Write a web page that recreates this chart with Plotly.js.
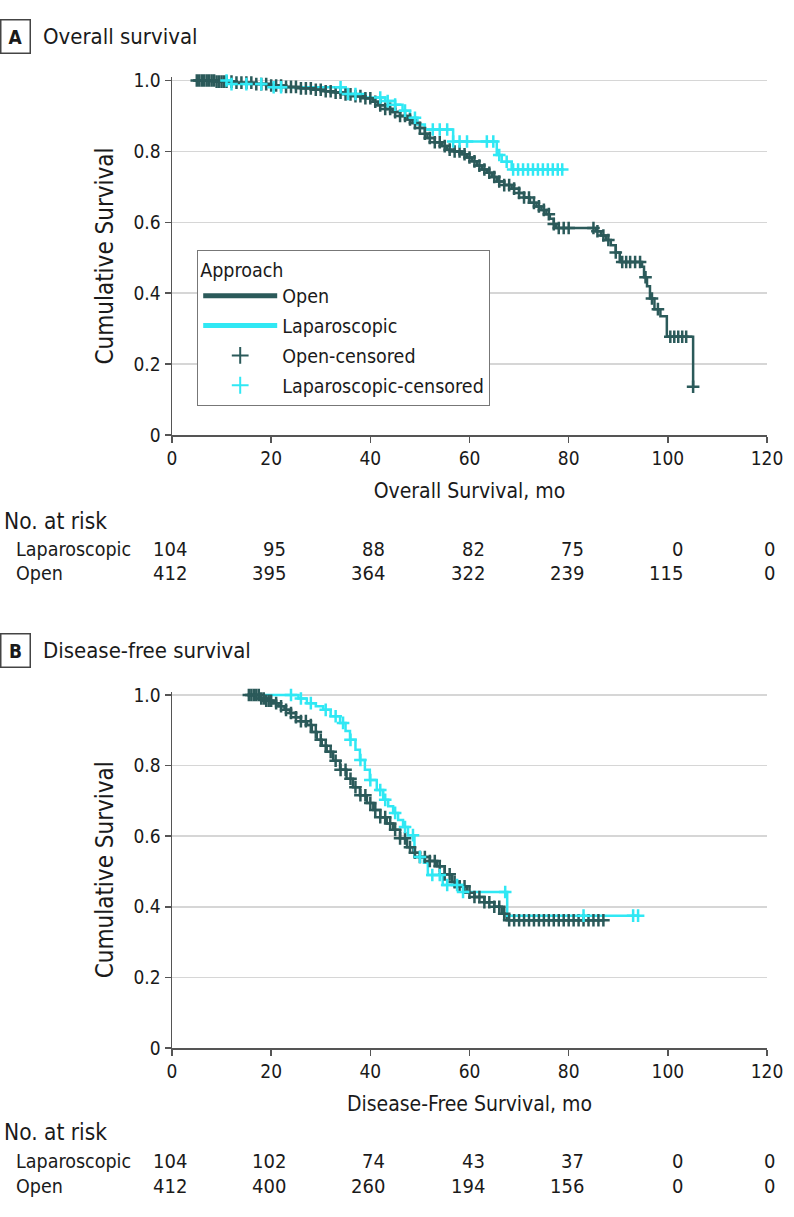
<!DOCTYPE html>
<html>
<head>
<meta charset="utf-8">
<script src="https://cdn.plot.ly/plotly-3.0.1.min.js"></script>
<style>
html,body{margin:0;padding:0;background:#fff;}
#chart{width:794px;height:1217px;}
</style>
</head>
<body>
<div id="chart"></div>
<script>
// ---------------- DATA ----------------
const xTickVals = [0, 20, 40, 60, 80, 100, 120];
const yTickVals = [0, 0.2, 0.4, 0.6, 0.8, 1.0];
const yTickText = ['0', '0.2', '0.4', '0.6', '0.8', '1.0'];
const seriesNames = ['Open', 'Laparoscopic', 'Open-censored', 'Laparoscopic-censored'];

// Panel A: overall survival (Kaplan-Meier steps)
const osOpenTime = [4.5, 9, 13, 17, 20, 23, 26, 29, 31, 33, 35, 37, 39, 40.5, 41.5, 43, 44.5, 46, 47.5, 48.5, 50, 51, 51.5, 53, 54.5, 55.5, 57, 58.5, 59.5, 60.5, 61.5, 62.5, 63.5, 64.5, 65.5, 67, 68.5, 70, 71, 72.2, 73.5, 74.5, 75.5, 76.2, 77, 77.5, 85.5, 86.5, 87.5, 88.5, 89.5, 90.3, 94.8, 95.2, 95.8, 96.4, 97.3, 98.5, 99.8, 105.1];
const osOpenSurv = [1.000, 0.997, 0.994, 0.990, 0.986, 0.982, 0.978, 0.974, 0.970, 0.966, 0.961, 0.956, 0.950, 0.940, 0.930, 0.920, 0.911, 0.900, 0.890, 0.880, 0.866, 0.850, 0.838, 0.826, 0.815, 0.805, 0.800, 0.792, 0.783, 0.772, 0.760, 0.749, 0.740, 0.728, 0.715, 0.705, 0.695, 0.683, 0.670, 0.655, 0.645, 0.635, 0.623, 0.610, 0.595, 0.584, 0.575, 0.563, 0.550, 0.535, 0.515, 0.488, 0.475, 0.445, 0.420, 0.385, 0.355, 0.335, 0.277, 0.136];
const osOpenCensor = [5, 5.5, 6, 6.5, 7, 7.5, 8, 8.5, 9, 9.5, 10, 10.5, 11, 12, 13, 14, 15, 16, 17, 18, 19, 20, 21, 22, 23, 24, 25, 26, 27, 28, 29, 30, 31, 32, 33, 34, 35, 36, 37, 38, 39, 40, 41, 42, 43, 44, 45, 46, 47, 48, 49, 50, 51, 52, 53, 54, 55, 56, 57, 58, 59, 60, 61, 62, 63, 64, 65, 66, 67, 68, 69, 70, 71, 72, 73, 74, 75, 76, 77, 78, 79, 80, 85, 85.8, 87, 88, 89.5, 90.8, 91.6, 92.4, 93.4, 94.4, 95.5, 96.8, 98, 100.5, 101.3, 102.1, 102.9, 103.7, 105.1];

const osLapTime = [10, 12, 20, 35, 39, 43, 45, 46.5, 48, 49.5, 51, 56.7, 65.5, 66.5, 68.5, 78.7];
const osLapSurv = [1.000, 0.990, 0.981, 0.962, 0.952, 0.942, 0.932, 0.915, 0.895, 0.876, 0.862, 0.828, 0.790, 0.771, 0.749, 0.749];
const osLapCensor = [11, 12, 15, 18, 20.5, 22, 34, 35.5, 37, 42, 43.5, 45, 47, 49, 52.6, 54, 55.5, 56.7, 58, 59.5, 63.5, 64.8, 66, 67.5, 68.8, 69.8, 70.8, 71.8, 72.8, 73.8, 74.8, 75.8, 76.8, 77.8, 78.7];

// Panel B: disease-free survival
const dfsOpenTime = [15.1, 17.7, 19, 20.4, 21.5, 22.7, 23.8, 25, 26, 27.2, 28.2, 29.2, 30.2, 31.2, 32.5, 33.9, 35.2, 36.5, 37.9, 39.3, 40.6, 42, 43.3, 44.6, 46, 47.4, 48.7, 50, 52, 53.5, 55, 56.5, 58, 59.5, 61, 63, 65, 66.5, 67.5, 87];
const dfsOpenSurv = [1.000, 0.990, 0.984, 0.977, 0.968, 0.958, 0.949, 0.937, 0.926, 0.915, 0.895, 0.873, 0.856, 0.839, 0.814, 0.788, 0.763, 0.739, 0.716, 0.694, 0.674, 0.654, 0.636, 0.618, 0.594, 0.569, 0.553, 0.541, 0.530, 0.515, 0.492, 0.470, 0.458, 0.440, 0.428, 0.413, 0.400, 0.380, 0.362, 0.362];
const dfsOpenCensor = [15.5, 16, 16.5, 17, 17.5, 18, 18.5, 19, 19.5, 20, 21, 22, 23, 24, 25, 26, 27, 28, 29, 30, 31, 32, 33, 34, 35, 36, 37, 38, 39, 40, 41, 42, 43, 44, 45, 46, 47, 48, 49, 50, 51, 52, 53, 54, 55, 56, 57, 58, 59, 60, 61, 62, 63, 64, 65, 66, 67, 68, 69, 70, 71, 72, 73, 74, 75, 76, 77, 78, 79, 80, 81, 82, 83, 84, 85, 86, 87];

const dfsLapTime = [15.5, 25.5, 27.2, 29, 30.5, 32, 33.9, 35, 35.9, 37, 37.9, 38.9, 39.9, 41.3, 42.6, 43.6, 44.6, 45.6, 46.6, 47.6, 48.9, 50.8, 51.6, 54.6, 58.7, 67.6, 94];
const dfsLapSurv = [1.000, 0.990, 0.977, 0.968, 0.958, 0.940, 0.921, 0.898, 0.873, 0.845, 0.816, 0.788, 0.759, 0.731, 0.703, 0.685, 0.666, 0.646, 0.626, 0.603, 0.541, 0.525, 0.490, 0.462, 0.442, 0.375, 0.375];
const dfsLapCensor = [24, 26, 28, 31, 33, 34.5, 36, 38, 40, 42, 43, 45, 47, 48.6, 50, 52.5, 54, 55.5, 57.5, 58.7, 67.2, 83, 93, 94];

// Number at risk
const riskLabels = ['Laparoscopic', 'Open'];
const osRiskLap = [104, 95, 88, 82, 75, 0, 0];
const osRiskOpen = [412, 395, 364, 322, 239, 115, 0];
const dfsRiskLap = [104, 102, 74, 43, 37, 0, 0];
const dfsRiskOpen = [412, 400, 260, 194, 156, 0, 0];

// ---------------- STYLE ----------------
const FONT = 'DejaVu Sans Condensed, DejaVu Sans, sans-serif';
const TXT = '#1a1a1a';
const DARK = '#2b5a5a';
const CYAN = '#30e8f4';
const AXC = '#555555';

// px helpers (layout only)
const PLOT_L = 172, PLOT_R = 767, PLOT_T = 77, PLOT_B = 1048;
const W = 794, H = 1217;
const px2x = px => (px - PLOT_L) / (PLOT_R - PLOT_L);
const py2y = py => (PLOT_B - py) / (PLOT_B - PLOT_T);

function stepAt(times, surv, t) {
  let v = surv[0];
  for (let i = 0; i < times.length; i++) { if (times[i] <= t + 1e-9) v = surv[i]; }
  return v;
}

function lineTrace(t, s, color, name, xa, ya, show) {
  return {x: t, y: s, type: 'scatter', mode: 'lines', line: {shape: 'hv', color: color, width: 2.5},
    name: name, showlegend: show, legendgroup: name, xaxis: xa, yaxis: ya, hoverinfo: 'skip'};
}
function censorTrace(ct, t, s, color, name, xa, ya, show) {
  return {x: ct, y: ct.map(c => stepAt(t, s, c)), type: 'scatter', mode: 'markers', cliponaxis: false,
    marker: {symbol: 'cross-thin', size: 9, color: color, line: {color: color, width: 2.5}},
    name: name, showlegend: show, legendgroup: name, xaxis: xa, yaxis: ya, hoverinfo: 'skip'};
}

const data = [
  lineTrace(osOpenTime, osOpenSurv, DARK, seriesNames[0], 'x', 'y', true),
  lineTrace(osLapTime, osLapSurv, CYAN, seriesNames[1], 'x', 'y', true),
  censorTrace(osOpenCensor, osOpenTime, osOpenSurv, DARK, seriesNames[2], 'x', 'y', true),
  censorTrace(osLapCensor, osLapTime, osLapSurv, CYAN, seriesNames[3], 'x', 'y', true),
  lineTrace(dfsOpenTime, dfsOpenSurv, DARK, seriesNames[0], 'x2', 'y2', false),
  lineTrace(dfsLapTime, dfsLapSurv, CYAN, seriesNames[1], 'x2', 'y2', false),
  censorTrace(dfsOpenCensor, dfsOpenTime, dfsOpenSurv, DARK, seriesNames[2], 'x2', 'y2', false),
  censorTrace(dfsLapCensor, dfsLapTime, dfsLapSurv, CYAN, seriesNames[3], 'x2', 'y2', false)
];

function xAxis(title, anchor) {
  return {anchor: anchor, range: [0, 120], tickvals: xTickVals, ticks: 'outside', ticklen: 6, tickwidth: 1.5,
    tickcolor: AXC, showline: true, linecolor: AXC, linewidth: 1.5, showgrid: false, zeroline: false,
    tickfont: {family: FONT, size: 19, color: TXT}, fixedrange: true,
    title: {text: title, font: {family: FONT, size: 21, color: TXT}, standoff: 15}};
}
function yAxis(domain, anchor) {
  return {anchor: anchor, domain: domain, range: [0, 1.01], tickvals: yTickVals, ticktext: yTickText,
    ticks: 'outside', ticklen: 6, tickwidth: 1.5, tickcolor: AXC, showline: true, linecolor: AXC, linewidth: 1.5,
    showgrid: true, gridcolor: '#d6d6d6', gridwidth: 1.5, zeroline: false,
    tickfont: {family: FONT, size: 19, color: TXT}, fixedrange: true,
    title: {text: 'Cumulative Survival', font: {family: FONT, size: 24, color: TXT}, standoff: 13}};
}

const annotations = [];
function txt(text, xpx, ypx, size, anchor, extra) {
  annotations.push(Object.assign({text: text, xref: 'paper', yref: 'paper', x: px2x(xpx), y: py2y(ypx),
    xanchor: anchor || 'left', yanchor: 'middle', showarrow: false, font: {family: FONT, size: size, color: TXT}}, extra || {}));
}
// Panel labels
txt('<b>A</b>', 15.5, 36, 19, 'center', {bordercolor: '#444', borderwidth: 1.5, borderpad: 5, bgcolor: '#fff', width: 18});
txt('Overall survival', 41, 36, 22);
txt('<b>B</b>', 15.5, 650, 19, 'center', {bordercolor: '#444', borderwidth: 1.5, borderpad: 5, bgcolor: '#fff', width: 18});
txt('Disease-free survival', 41, 650, 22);

// Risk tables (numbers right-aligned just past each time tick)
function riskTable(yHead, yLap, yOpen, lap, open) {
  txt('No. at risk', 2, yHead, 22.5);
  txt(riskLabels[0], 14, yLap, 19.5);
  txt(riskLabels[1], 14, yOpen, 19.5);
  [[lap, yLap], [open, yOpen]].forEach(([vals, ypx]) => {
    vals.forEach((v, i) => {
      const tickPx = PLOT_L + xTickVals[i] / 120 * (PLOT_R - PLOT_L);
      txt(String(v), Math.min(tickPx + 17, 777), ypx, 20, 'right');
    });
  });
}
riskTable(521, 549, 573, osRiskLap, osRiskOpen);
riskTable(1132, 1161, 1186, dfsRiskLap, dfsRiskOpen);

const layout = {
  width: W, height: H,
  margin: {l: PLOT_L, r: W - PLOT_R, t: PLOT_T, b: H - PLOT_B},
  paper_bgcolor: '#ffffff', plot_bgcolor: '#ffffff',
  font: {family: FONT, color: TXT},
  xaxis: xAxis('Overall Survival, mo', 'y'),
  yaxis: yAxis([py2y(435), 1], 'x'),
  xaxis2: xAxis('Disease-Free Survival, mo', 'y2'),
  yaxis2: yAxis([0, py2y(691.5)], 'x2'),
  showlegend: true,
  legend: {x: px2x(197), y: py2y(250), xanchor: 'left', yanchor: 'top', xref: 'paper', yref: 'paper',
    bgcolor: '#ffffff', bordercolor: '#777', borderwidth: 1.2,
    font: {family: FONT, size: 19.5, color: TXT}, traceorder: 'grouped', tracegroupgap: 1.5,
    itemsizing: 'constant', itemwidth: 74,
    title: {text: 'Approach', side: 'top', font: {family: FONT, size: 19.5, color: TXT}}},
  annotations: annotations
};

Plotly.newPlot('chart', data, layout, {staticPlot: true, displayModeBar: false});
</script>
</body>
</html>
